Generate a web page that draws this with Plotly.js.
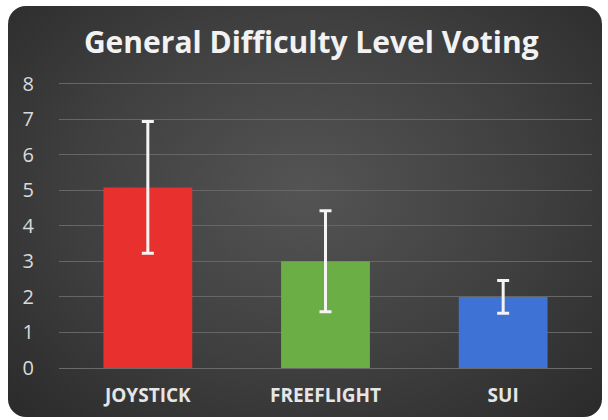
<!DOCTYPE html>
<html>
<head>
<meta charset="utf-8">
<script src="https://cdn.plot.ly/plotly-3.0.1.min.js"></script>
<style>
    html, body { margin: 0; padding: 0; background: #ffffff; }
    #panel {
        position: absolute;
        left: 8px; top: 6px; width: 594px; height: 411px;
        border-radius: 18px;
        background: radial-gradient(ellipse at 50% 45%, #545454 0%, #3f3f3f 55%, #2a2a2a 100%);
    }
    #chart { position: absolute; left: 0; top: 0; width: 608px; height: 420px; }
</style>
</head>
<body>
<div id="panel"></div>
<div id="chart"></div>
<script>
const categories = ['JOYSTICK', 'FREEFLIGHT', 'SUI'];
const means = [5.08, 3.0, 2.0];
const errors = [1.85, 1.42, 0.46];
const barColors = ['#e8302f', '#6aae45', '#3e72d4'];

const font_main = 'Open Sans';

const trace = {
    x: categories,
    y: means,
    type: 'bar',
    marker: {
        color: barColors,
        line: {width: 0}
    },
    error_y: {
        type: 'data',
        array: errors,
        visible: true,
        color: '#f4f4f4',
        thickness: 3,
        width: 6
    },
    hoverinfo: 'x+y'
};

const layout = {
    width: 608,
    height: 420,
    title: {
        text: '<b>General Difficulty Level Voting</b>',
        x: 0.512,
        xanchor: 'center',
        y: 0.898,
        yanchor: 'middle',
        font: {family: font_main, size: 30, color: '#f2f2f2'}
    },
    xaxis: {
        fixedrange: true,
        showgrid: false,
        showline: false,
        tickfont: {family: font_main, size: 19, color: '#e6e6e6', weight: 'bold'},
        ticklabelstandoff: 14
    },
    yaxis: {
        range: [0, 8.1],
        tickvals: [0, 1, 2, 3, 4, 5, 6, 7, 8],
        fixedrange: true,
        showgrid: true,
        gridcolor: '#666666',
        gridwidth: 1,
        zeroline: true,
        zerolinecolor: '#6a6a6a',
        zerolinewidth: 1,
        showline: false,
        tickfont: {family: font_main, size: 20, color: '#dadada'},
        ticklabelstandoff: 24
    },
    bargap: 0.5,
    margin: {l: 59, r: 16, t: 80, b: 52},
    paper_bgcolor: 'rgba(0,0,0,0)',
    plot_bgcolor: 'rgba(0,0,0,0)',
    showlegend: false
};

Plotly.newPlot('chart', [trace], layout, {displayModeBar: false});
</script>
</body>
</html>
